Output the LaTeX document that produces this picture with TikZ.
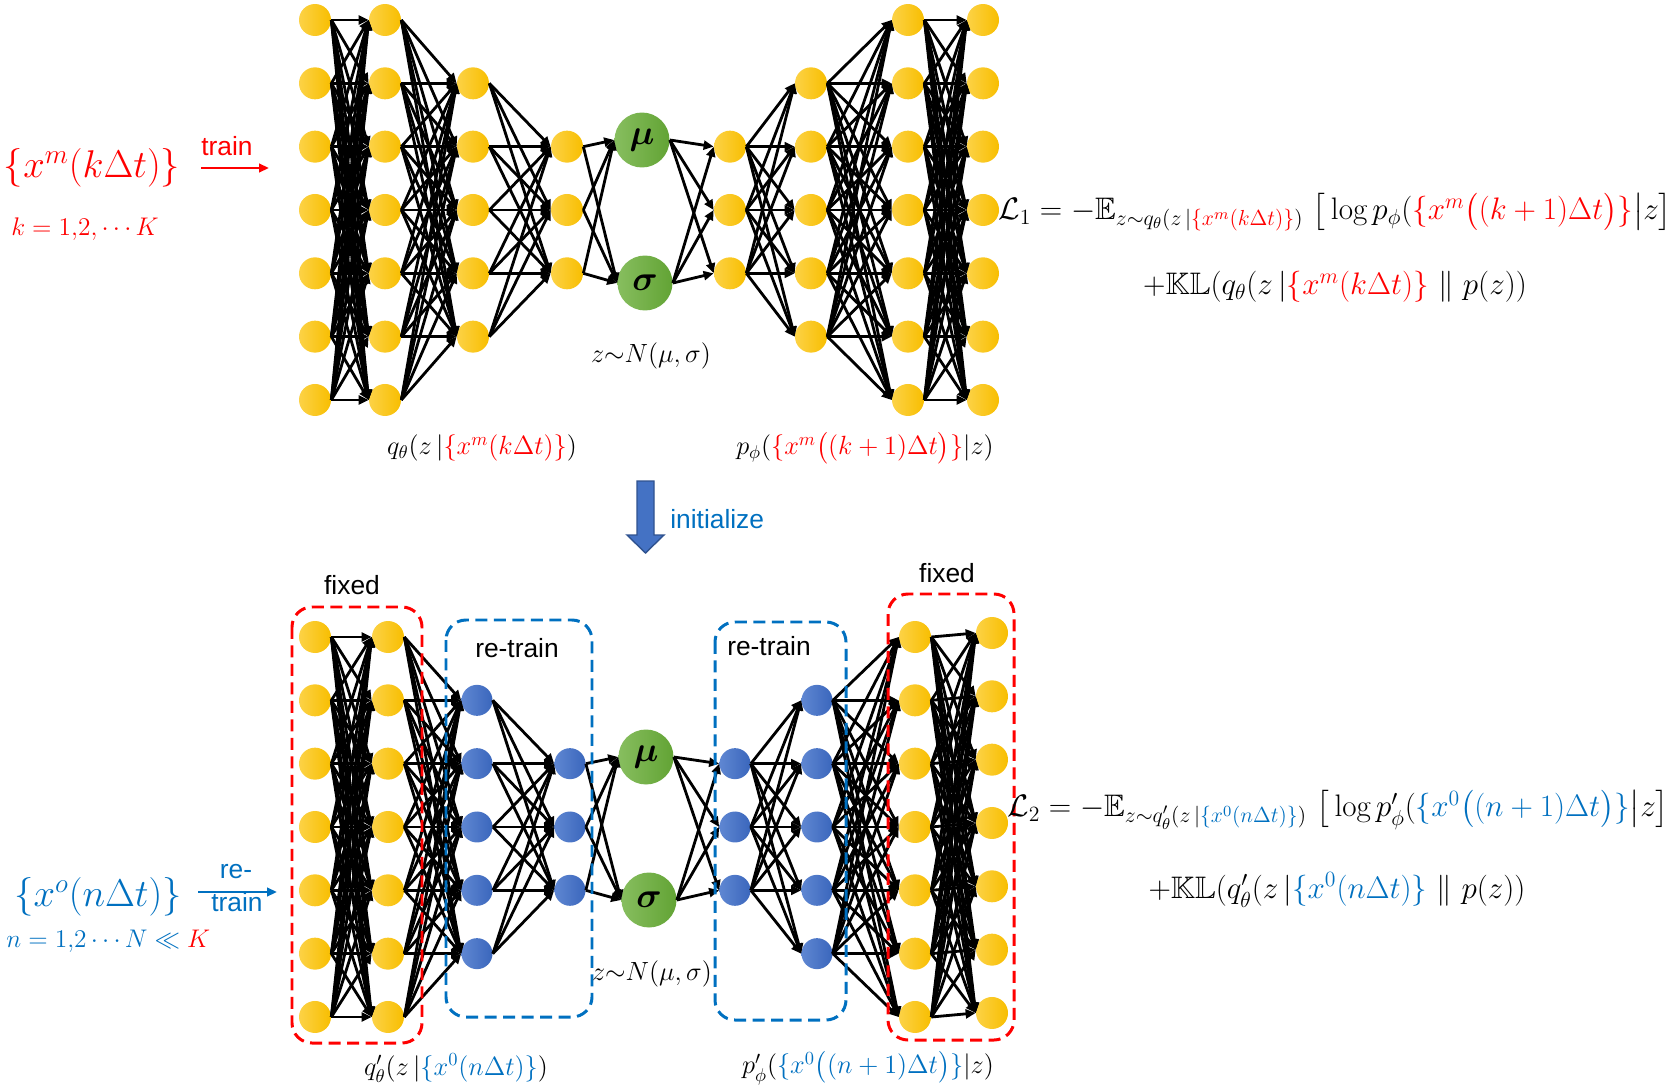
\RequirePackage{fix-cm}
\documentclass[tikz,border=0pt]{standalone}
\usepackage{amsmath,amssymb}
\usepackage{xcolor}
\usepackage{fontspec}
\setsansfont{Liberation Sans}
\usetikzlibrary{arrows.meta,positioning,calc}

\definecolor{nodeyellow}{RGB}{248,190,0}
\definecolor{nodeyellowlt}{RGB}{252,210,70}
\definecolor{nodeblue}{RGB}{58,102,188}
\definecolor{nodebluelt}{RGB}{95,135,210}
\definecolor{nodegreen}{RGB}{98,163,52}
\definecolor{nodegreenlt}{RGB}{135,190,95}
\definecolor{setred}{RGB}{255,0,0}
\definecolor{setblue}{RGB}{0,112,192}
\definecolor{initblue}{RGB}{68,114,196}
\definecolor{initbluedk}{RGB}{47,82,143}

\newcommand{\redset}[1]{\textcolor{setred}{#1}}
\newcommand{\blueset}[1]{\textcolor{setblue}{#1}}

\begin{document}
\begin{tikzpicture}[
    x=0.02cm, y=-0.02cm,
    ynode/.style={circle, minimum size=0.64cm, inner sep=0pt, left color=nodeyellowlt, right color=nodeyellow},
    bnode/.style={circle, minimum size=0.62cm, inner sep=0pt, left color=nodebluelt, right color=nodeblue},
    gnode/.style={circle, minimum size=1.1cm, inner sep=0pt, left color=nodegreenlt, right color=nodegreen, font=\fontsize{20}{24}\selectfont},
    conn/.style={-{Triangle[length=0.2cm, width=0.18cm]}, line width=1.6pt},
    fixbox/.style={draw=setred, line width=1.7pt, dash pattern=on 0.24cm off 0.13cm, rounded corners=0.4cm},
    retrainbox/.style={draw=setblue, line width=1.7pt, dash pattern=on 0.24cm off 0.13cm, rounded corners=0.4cm},
    mathlbl/.style={inner sep=0pt, font=\fontsize{15}{18}\selectfont},
    losslbl/.style={inner sep=0pt, font=\fontsize{17.7}{21}\selectfont},
    setlbl/.style={inner sep=0pt, font=\fontsize{22}{26}\selectfont},
    rangelbl/.style={inner sep=0pt, font=\fontsize{14.5}{17}\selectfont},
    sflbl/.style={inner sep=0pt, font=\sffamily\fontsize{15}{18}\selectfont}
]
    \useasboundingbox (0,0) rectangle (1674,1088);

    \foreach \i in {0,...,6} \node[ynode] (ta\i) at (315, 20+63.33*\i) {};
    \foreach \i in {0,...,6} \node[ynode] (tb\i) at (385, 20+63.33*\i) {};
    \foreach \i in {1,...,5} \node[ynode] (tc\i) at (473, 20+63.33*\i) {};
    \foreach \i in {2,...,4} \node[ynode] (td\i) at (567, 20+63.33*\i) {};
    \node[gnode] (tmu) at (642, 140) {$\boldsymbol{\mu}$};
    \node[gnode] (tsig) at (645, 283) {$\boldsymbol{\sigma}$};
    \foreach \i in {2,...,4} \node[ynode] (te\i) at (730, 20+63.33*\i) {};
    \foreach \i in {1,...,5} \node[ynode] (tf\i) at (811, 20+63.33*\i) {};
    \foreach \i in {0,...,6} \node[ynode] (tg\i) at (908, 20+63.33*\i) {};
    \foreach \i in {0,...,6} \node[ynode] (th\i) at (983, 20+63.33*\i) {};

    \foreach \i in {0,...,6} \foreach \j in {0,...,6} \draw[conn] (ta\i.east) -- (tb\j.west);
    \foreach \i in {0,...,6} \foreach \j in {1,...,5} \draw[conn] (tb\i.east) -- (tc\j.west);
    \foreach \i in {1,...,5} \foreach \j in {2,...,4} \draw[conn] (tc\i.east) -- (td\j.west);
    \foreach \i in {2,...,4} \foreach \n in {tmu,tsig} \draw[conn] (td\i.east) -- (\n.west);
    \foreach \n in {tmu,tsig} \foreach \j in {2,...,4} \draw[conn] (\n.east) -- (te\j.west);
    \foreach \i in {2,...,4} \foreach \j in {1,...,5} \draw[conn] (te\i.east) -- (tf\j.west);
    \foreach \i in {1,...,5} \foreach \j in {0,...,6} \draw[conn] (tf\i.east) -- (tg\j.west);
    \foreach \i in {0,...,6} \foreach \j in {0,...,6} \draw[conn] (tg\i.east) -- (th\j.west);

    \foreach \i in {0,...,6} \node[ynode] (ba\i) at (315, 637+63.33*\i) {};
    \foreach \i in {0,...,6} \node[ynode] (bb\i) at (388, 637+63.33*\i) {};
    \foreach \i in {1,...,5} \node[bnode] (bc\i) at (477, 637+63.33*\i) {};
    \foreach \i in {2,...,4} \node[bnode] (bd\i) at (570, 637+63.33*\i) {};
    \node[gnode] (bmu) at (646, 757) {$\boldsymbol{\mu}$};
    \node[gnode] (bsig) at (649, 900) {$\boldsymbol{\sigma}$};
    \foreach \i in {2,...,4} \node[bnode] (be\i) at (735, 637+63.33*\i) {};
    \foreach \i in {1,...,5} \node[bnode] (bf\i) at (817, 637+63.33*\i) {};
    \foreach \i in {0,...,6} \node[ynode] (bg\i) at (915, 637+63.33*\i) {};
    \foreach \i in {0,...,6} \node[ynode] (bh\i) at (992, 633+63.33*\i) {};

    \foreach \i in {0,...,6} \foreach \j in {0,...,6} \draw[conn] (ba\i.east) -- (bb\j.west);
    \foreach \i in {0,...,6} \foreach \j in {1,...,5} \draw[conn] (bb\i.east) -- (bc\j.west);
    \foreach \i in {1,...,5} \foreach \j in {2,...,4} \draw[conn] (bc\i.east) -- (bd\j.west);
    \foreach \i in {2,...,4} \foreach \n in {bmu,bsig} \draw[conn] (bd\i.east) -- (\n.west);
    \foreach \n in {bmu,bsig} \foreach \j in {2,...,4} \draw[conn] (\n.east) -- (be\j.west);
    \foreach \i in {2,...,4} \foreach \j in {1,...,5} \draw[conn] (be\i.east) -- (bf\j.west);
    \foreach \i in {1,...,5} \foreach \j in {0,...,6} \draw[conn] (bf\i.east) -- (bg\j.west);
    \foreach \i in {0,...,6} \foreach \j in {0,...,6} \draw[conn] (bg\i.east) -- (bh\j.west);

    \draw[fixbox] (292, 607) rectangle (422, 1043);
    \draw[retrainbox] (446, 620) rectangle (592, 1017);
    \draw[retrainbox] (715, 622) rectangle (846, 1020);
    \draw[fixbox] (888, 594) rectangle (1014, 1040);

    \node[sflbl] (fixl) at (352, 585) {fixed};
    \node[sflbl] (fixr) at (947, 573) {fixed};
    \node[sflbl] (retrl) at (517, 648) {re-train};
    \node[sflbl] (retrr) at (769, 646) {re-train};

    \node[mathlbl] (ztop) at (651, 356) {$z{\sim}N(\mu,\sigma)$};
    \node[mathlbl] (zbot) at (652, 974) {$z{\sim}N(\mu,\sigma)$};
    \node[mathlbl] (qtop) at (482, 448) {$q_\theta(z\,|\redset{\{x^m(k\Delta t)\}})$};
    \node[mathlbl] (ptop) at (865, 448) {$p_\phi(\redset{\{x^m\big((k+1)\Delta t\big)\}}|z)$};
    \node[mathlbl] (qbot) at (456, 1068) {$q'_\theta(z\,|\blueset{\{x^0(n\Delta t)\}})$};
    \node[mathlbl] (pbot) at (868, 1068) {$p'_\phi(\blueset{\{x^0\big((n+1)\Delta t\big)\}}|z)$};

    \node[setlbl, text=setred] (xmset) at (92, 168) {$\{x^m(k\Delta t)\}$};
    \node[rangelbl, text=setred] (krange) at (85, 229) {$k=1{,}2{,}\cdots K$};
    \coordinate (trainbeg) at (201, 168);
    \coordinate (trainend) at (269, 168);
    \draw[setred, line width=1.4pt, -{Triangle[length=0.2cm, width=0.17cm]}] (trainbeg) -- (trainend);
    \node[sflbl, text=setred] (trainlbl) at (227, 146) {train};

    \node[setlbl, text=setblue] (xoset) at (98, 897) {$\{x^o(n\Delta t)\}$};
    \node[rangelbl, text=setblue, anchor=west] (nrange) at (6, 941) {$n=1{,}2\cdots N\ll \redset{K}$};
    \coordinate (retrbeg) at (198, 892);
    \coordinate (retrend) at (277, 892);
    \draw[setblue, line width=1.4pt, -{Triangle[length=0.2cm, width=0.17cm]}] (retrbeg) -- (retrend);
    \node[sflbl, text=setblue] (retrainlbla) at (236, 872) {re-};
    \node[sflbl, text=setblue] (retrainlblb) at (237, 902) {train};

    \draw[initbluedk, fill=initblue, line width=0.8pt] (637, 481) -- (654, 481) -- (654, 535) -- (664, 535) -- (645.5, 553) -- (627, 535) -- (637, 535) -- cycle;
    \node[sflbl, text=setblue, anchor=west] (initlbl) at (670, 519) {initialize};

    \node[losslbl, anchor=west] (lossa) at (998, 212) {$\mathcal{L}_1=-\mathbb{E}_{z\sim q_\theta(z\,|\redset{\{x^m(k\Delta t)\}})}\ \big[\log p_\phi(\redset{\{x^m\big((k+1)\Delta t\big)\}}\big|z\big]$};
    \node[losslbl] (lossakl) at (1335, 287) {$+\mathbb{KL}(q_\theta(z\,|\redset{\{x^m(k\Delta t)\}}\ \|\ p(z))$};
    \node[losslbl, anchor=west] (lossb) at (1007, 810) {$\mathcal{L}_2=-\mathbb{E}_{z\sim q'_\theta(z\,|\blueset{\{x^0(n\Delta t)\}})}\ \big[\log p'_\phi(\blueset{\{x^0\big((n+1)\Delta t\big)\}}\big|z\big]$};
    \node[losslbl] (lossbkl) at (1337, 890) {$+\mathbb{KL}(q'_\theta(z\,|\blueset{\{x^0(n\Delta t)\}}\ \|\ p(z))$};
\end{tikzpicture}
\end{document}
